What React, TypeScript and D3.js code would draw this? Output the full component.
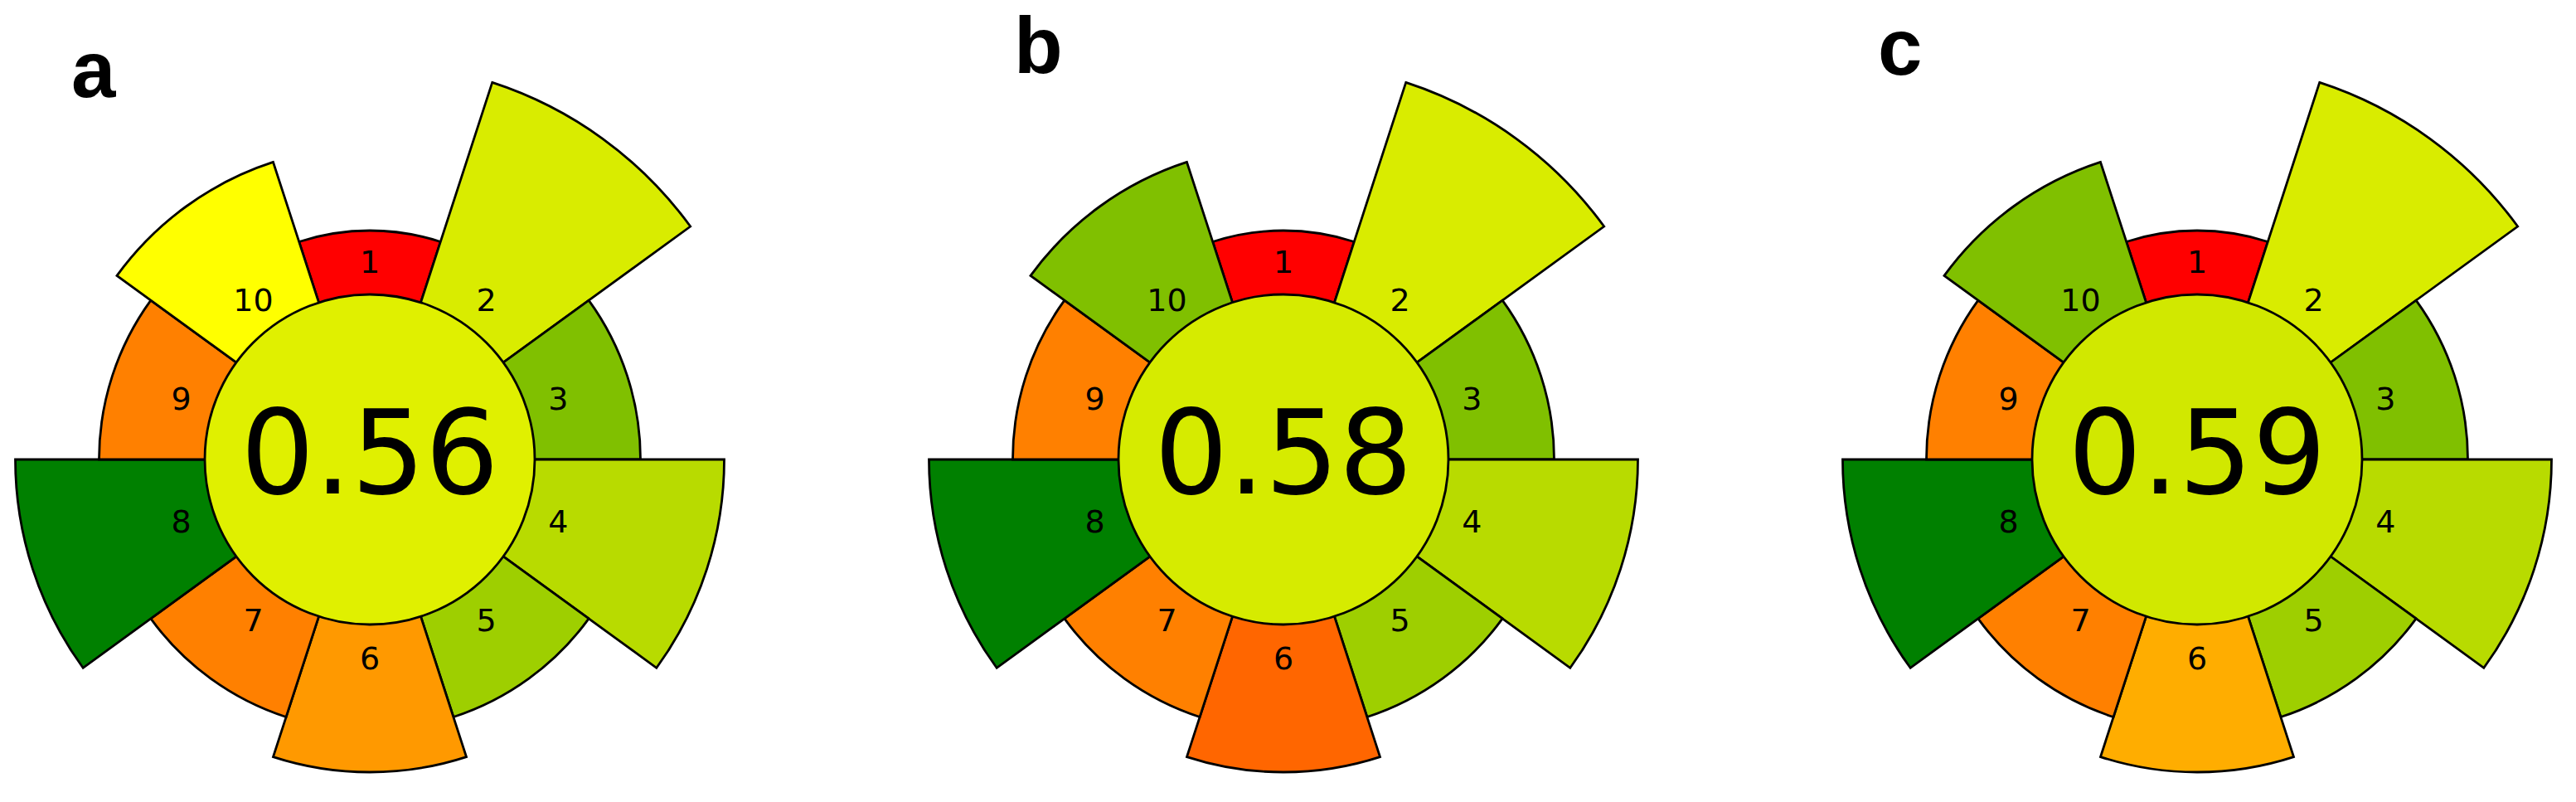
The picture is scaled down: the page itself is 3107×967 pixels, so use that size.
import React from "react";
import * as d3 from "d3";

// ---- data ----
const criteria = ["1", "2", "3", "4", "5", "6", "7", "8", "9", "10"];
const weights = [1, 5, 2, 4, 2, 3, 2, 4, 2, 3];
const panelNames = ["a", "b", "c"];
const scoresA = [0, 0.575, 0.75, 0.64, 0.69, 0.3, 0.25, 1.0, 0.25, 0.5];
const scoresB = [0, 0.575, 0.75, 0.64, 0.69, 0.2, 0.25, 1.0, 0.25, 0.75];
const scoresC = [0, 0.575, 0.75, 0.64, 0.69, 0.34, 0.25, 1.0, 0.25, 0.75];
const totalScores = [0.56, 0.58, 0.59];

const W = 3107;
const H = 967;

const color = d3
  .scaleLinear<string>()
  .domain([0, 0.5, 1])
  .range(["#ff0000", "#ffff00", "#008000"])
  .interpolate(d3.interpolateRgb)
  .clamp(true);

const outerR = d3.scaleLinear().domain([1, 5]).range([276, 478]);
const centerX = d3.scaleLinear().domain([0, 2]).range([446, 2650]);
const CY = 554;
const INNER_R = 199;
const LABEL_R = 239;
const seg = (2 * Math.PI) / criteria.length;

const panelLabelPos = [
  { x: 86, y: 117 },
  { x: 1223, y: 88 },
  { x: 2265, y: 90 },
];

function Panel({ idx, scores }: { idx: number; scores: number[] }) {
  const cx = centerX(idx);
  const arc = d3.arc<any>();
  return (
    <g>
      <g transform={`translate(${cx},${CY})`}>
        {criteria.map((c, i) => {
          const a0 = i * seg - seg / 2;
          const a1 = i * seg + seg / 2;
          const d = arc({
            innerRadius: 0,
            outerRadius: outerR(weights[i]),
            startAngle: a0,
            endAngle: a1,
          }) as string;
          return (
            <path
              key={c}
              d={d}
              fill={color(scores[i])}
              stroke="#000"
              strokeWidth={2.8}
              strokeLinejoin="miter"
            />
          );
        })}
        <circle r={INNER_R} fill={color(totalScores[idx])} stroke="#000" strokeWidth={2.8} />
        {criteria.map((c, i) => {
          const a = i * seg;
          const x = LABEL_R * Math.sin(a);
          const y = -LABEL_R * Math.cos(a);
          return (
            <text
              key={"t" + c}
              x={x}
              y={y + 13.9}
              textAnchor="middle"
              fontFamily="'DejaVu Sans', sans-serif"
              fontSize={38}
              fill="#000"
            >
              {c}
            </text>
          );
        })}
        <text
          x={0}
          y={41}
          textAnchor="middle"
          fontFamily="'DejaVu Sans', sans-serif"
          fontSize={140}
          fill="#000"
        >
          {d3.format(".2f")(totalScores[idx])}
        </text>
      </g>
      <text
        x={panelLabelPos[idx].x}
        y={panelLabelPos[idx].y}
        fontFamily="'Liberation Sans', Arial, sans-serif"
        fontWeight="bold"
        fontSize={96}
        fill="#000"
      >
        {panelNames[idx]}
      </text>
    </g>
  );
}

export default function App() {
  const all = [scoresA, scoresB, scoresC];
  return (
    <svg
      width={W}
      height={H}
      viewBox={`0 0 ${W} ${H}`}
      style={{ position: "absolute", left: 0, top: 0, background: "#fff" }}
    >
      <rect width={W} height={H} fill="#fff" />
      {all.map((s, i) => (
        <Panel key={i} idx={i} scores={s} />
      ))}
    </svg>
  );
}
